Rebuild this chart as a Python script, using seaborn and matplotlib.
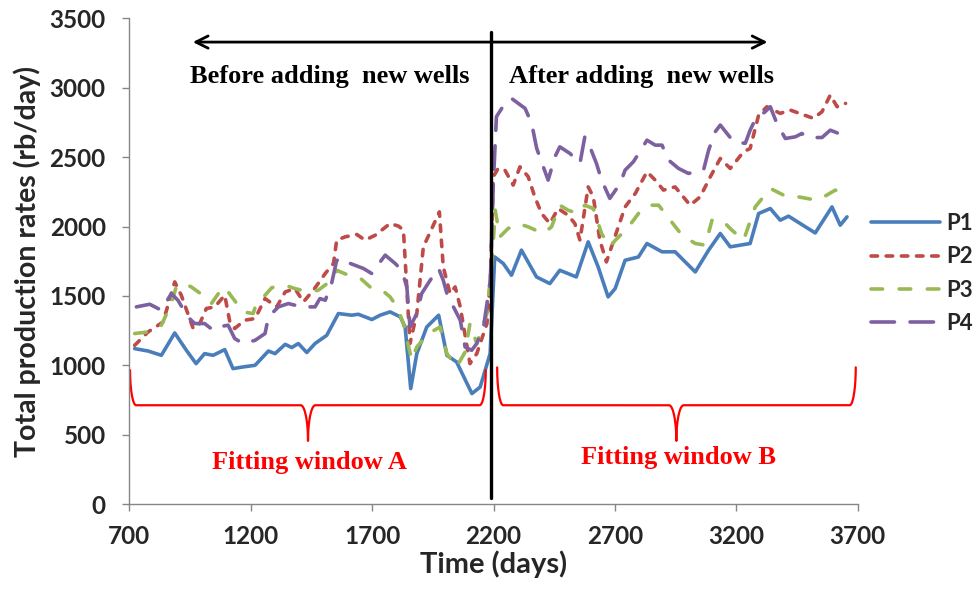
import numpy as np
import pandas as pd
import matplotlib
matplotlib.use("Agg")
import matplotlib.pyplot as plt
import seaborn as sns

# ---------------- data ----------------
p1_days = [722, 777, 832, 887, 935, 975, 1010, 1045, 1093, 1127, 1168, 1218, 1273, 1300, 1342,
           1369, 1396, 1431, 1465, 1513, 1561, 1616, 1643, 1699, 1733, 1774, 1816, 1836, 1859,
           1884, 1925, 1974, 2008, 2048, 2111, 2145, 2186, 2205, 2240, 2274, 2315, 2377, 2432,
           2473, 2541, 2590, 2631, 2672, 2701, 2742, 2797, 2832, 2894, 2948, 3031, 3086, 3134,
           3175, 3216, 3257, 3292, 3340, 3381, 3415, 3525, 3594, 3628, 3656]
p1_vals = [1120, 1103, 1072, 1233, 1108, 1012, 1084, 1072, 1113, 976, 988, 1000, 1103, 1084, 1151,
           1128, 1157, 1092, 1157, 1216, 1373, 1361, 1368, 1330, 1361, 1385, 1349, 1276, 832,
           1084, 1276, 1361, 1072, 1024, 796, 843, 1084, 1781, 1734, 1649, 1830, 1637, 1589,
           1685, 1637, 1890, 1709, 1493, 1553, 1757, 1781, 1878, 1818, 1818, 1673, 1830, 1950,
           1854, 1866, 1878, 2094, 2130, 2046, 2075, 1954, 2142, 2010, 2070]

p2_days = [722, 777, 839, 887, 914, 963, 990, 1017, 1052, 1093, 1114, 1134, 1175, 1218, 1259,
           1307, 1342, 1382, 1417, 1458, 1507, 1541, 1554, 1589, 1637, 1671, 1713, 1774, 1809,
           1829, 1856, 1884, 1911, 1946, 1977, 1993, 2021, 2042, 2063, 2103, 2131, 2173, 2187,
           2199, 2219, 2247, 2281, 2309, 2343, 2370, 2398, 2432, 2466, 2507, 2535, 2556, 2590,
           2611, 2638, 2665, 2700, 2742, 2784, 2832, 2866, 2900, 2948, 3010, 3051, 3093, 3134,
           3175, 3230, 3257, 3292, 3326, 3381, 3422, 3518, 3553, 3587, 3615, 3650]
p2_vals = [1144, 1240, 1312, 1601, 1505, 1265, 1301, 1409, 1421, 1505, 1312, 1265, 1325, 1337, 1481,
           1421, 1529, 1553, 1457, 1541, 1662, 1734, 1902, 1926, 1943, 1902, 1938, 2022, 2003,
           1974, 1157, 1373, 1854, 1986, 2106, 1709, 1517, 1565, 1421, 1012, 1084, 1301, 1613,
           2359, 2419, 2407, 2299, 2431, 2359, 2214, 2094, 2022, 2130, 2082, 2022, 1902, 2286,
           2214, 1902, 1745, 1926, 2142, 2239, 2395, 2335, 2263, 2286, 2154, 2214, 2359, 2491,
           2419, 2539, 2563, 2804, 2864, 2816, 2840, 2780, 2828, 2948, 2864, 2888]

p3_days = [722, 777, 832, 873, 893, 928, 955, 1003, 1038, 1086, 1107, 1148, 1168, 1210, 1223,
           1259, 1287, 1342, 1382, 1438, 1478, 1533, 1554, 1603, 1650, 1691, 1733, 1774, 1802,
           1829, 1863, 1884, 1932, 1980, 2008, 2048, 2083, 2103, 2131, 2173, 2194, 2207, 2226,
           2260, 2301, 2343, 2404, 2439, 2473, 2507, 2548, 2576, 2611, 2645, 2679, 2701, 2756,
           2797, 2838, 2880, 2928, 2976, 3031, 3072, 3100, 3141, 3182, 3230, 3278, 3340, 3409,
           3456, 3532, 3560, 3608, 3642]
p3_vals = [1229, 1240, 1289, 1445, 1565, 1589, 1565, 1505, 1445, 1565, 1529, 1433, 1385, 1373, 1445,
           1505, 1560, 1577, 1553, 1529, 1541, 1613, 1685, 1649, 1630, 1565, 1553, 1493, 1421,
           1301, 1036, 1132, 1229, 1276, 1084, 988, 1096, 1301, 1157, 1373, 1750, 2118, 1926,
           1986, 2022, 1998, 1950, 1998, 2154, 2118, 2094, 2154, 2130, 1950, 1854, 1900, 1998,
           2094, 2154, 2154, 2046, 1938, 1878, 1866, 2046, 2046, 1974, 1902, 2142, 2275, 2214,
           2214, 2190, 2214, 2263, 2219]

p4_days = [729, 784, 832, 873, 900, 941, 969, 1010, 1045, 1065, 1107, 1134, 1168, 1218, 1259,
           1273, 1314, 1355, 1410, 1465, 1485, 1507, 1533, 1554, 1589, 1610, 1664, 1699, 1733,
           1754, 1795, 1822, 1843, 1856, 1884, 1904, 1939, 1974, 1993, 2008, 2035, 2063, 2083,
           2110, 2131, 2159, 2187, 2199, 2212, 2247, 2274, 2330, 2357, 2378, 2405, 2425, 2453,
           2473, 2515, 2556, 2576, 2597, 2624, 2645, 2679, 2722, 2742, 2776, 2811, 2832, 2866,
           2894, 2921, 2962, 3003, 3065, 3086, 3113, 3134, 3189, 3237, 3257, 3278, 3319, 3340,
           3367, 3402, 3443, 3470, 3497, 3553, 3587, 3622, 3656]
p4_vals = [1421, 1440, 1397, 1517, 1469, 1349, 1301, 1301, 1253, 1276, 1289, 1193, 1157, 1180, 1229,
           1349, 1421, 1445, 1421, 1421, 1481, 1469, 1589, 1757, 1770, 1734, 1698, 1661, 1745,
           1794, 1734, 1685, 1565, 1276, 1373, 1517, 1613, 1698, 1613, 1517, 1421, 1325, 1132,
           1108, 1157, 1276, 1613, 2300, 2792, 2888, 2924, 2852, 2744, 2563, 2431, 2335, 2503,
           2575, 2527, 2455, 2647, 2575, 2455, 2335, 2203, 2311, 2407, 2467, 2563, 2623, 2587,
           2587, 2479, 2419, 2383, 2407, 2551, 2683, 2732, 2611, 2600, 2695, 2772, 2828, 2864,
           2744, 2635, 2647, 2671, 2642, 2642, 2695, 2671, 2647]

series_names = ["P1", "P2", "P3", "P4"]
x_ticks = [700, 1200, 1700, 2200, 2700, 3200, 3700]
y_ticks = [0, 500, 1000, 1500, 2000, 2500, 3000, 3500]
split_day = 2190

# ---------------- style ----------------
sns.set_theme(style="white")
plt.rcParams["font.family"] = ["Lato", "DejaVu Sans"]
plt.rcParams["font.weight"] = "bold"

colors = {"P1": "#4A7EBB", "P2": "#BE4B48", "P3": "#98B954", "P4": "#7D60A0"}
styles = {"P1": "-", "P2": (0, (1.8, 2.4)), "P3": (0, (3.2, 4.6)), "P4": (0, (6.5, 4.3))}

fig = plt.figure(figsize=(9.79, 5.89), dpi=100)
ax = fig.add_axes([0.1321, 0.1443, 0.8761 - 0.1321, 0.9686 - 0.1443])

data = {"P1": (p1_days, p1_vals), "P2": (p2_days, p2_vals),
        "P3": (p3_days, p3_vals), "P4": (p4_days, p4_vals)}

handles = []
for name in series_names:
    d, v = data[name]
    df = pd.DataFrame({"day": d, "rate": v})
    sns.lineplot(data=df, x="day", y="rate", ax=ax, color=colors[name], lw=2.6,
                 linestyle=styles[name], dash_capstyle="round", solid_capstyle="round",
                 solid_joinstyle="round", dash_joinstyle="round", legend=False)
    handles.append(ax.lines[-1])

ax.set_xlim(700, 3700)
ax.set_ylim(0, 3500)
ax.set_xticks(x_ticks)
ax.set_yticks(y_ticks)
ax.set_xticklabels([str(t) for t in x_ticks], fontsize=17.5, fontweight="bold")
ax.set_yticklabels([str(t) for t in y_ticks], fontsize=17.5, fontweight="bold")
ax.set_xlabel("Time (days)", fontsize=21, fontweight="bold", labelpad=2)
ax.set_ylabel("Total production rates (rb/day)", fontsize=20.5, fontweight="bold", labelpad=6)

for s in ["top", "right"]:
    ax.spines[s].set_visible(False)
for s in ["left", "bottom"]:
    ax.spines[s].set_color("#868686")
    ax.spines[s].set_linewidth(1.0)
ax.tick_params(axis="both", direction="out", length=5, width=1, color="#868686",
               bottom=True, left=True)
ax.tick_params(axis="x", pad=10)
ax.tick_params(axis="y", pad=12)

# ---------------- annotations ----------------
ax.plot([split_day, split_day], [45, 3400], color="black", lw=2.4, clip_on=False)
ax.annotate("", xy=(950, 3330), xytext=(3340, 3330),
            arrowprops=dict(arrowstyle="<->", color="black", lw=2.0,
                            mutation_scale=22), annotation_clip=False)
serif = ["Liberation Serif", "DejaVu Serif"]
ax.text(1527, 3085, "Before adding  new wells", ha="center", va="center",
        fontsize=19, fontweight="bold", family=serif, color="black")
ax.text(2809, 3085, "After adding  new wells", ha="center", va="center",
        fontsize=19, fontweight="bold", family=serif, color="black")


def brace(x0, x1, xt, y_top, y_h, y_tip, we=25, wt=30, n=40):
    th = np.linspace(0, np.pi / 2, n)
    lx = x0 + we - we * np.cos(th)
    ly = y_top - (y_top - y_h) * np.sin(th)
    tlx = xt - wt + wt * np.sin(th)
    tly = y_tip + (y_h - y_tip) * np.cos(th)
    trx = xt + wt - wt * np.sin(th[::-1])
    try_ = y_tip + (y_h - y_tip) * np.cos(th[::-1])
    rx = x1 - we + we * np.cos(th[::-1])
    ry = y_top - (y_top - y_h) * np.sin(th[::-1])
    xs = np.concatenate([lx, tlx, trx, rx])
    ys = np.concatenate([ly, tly, try_, ry])
    ax.plot(xs, ys, color="red", lw=1.6, clip_on=False)


brace(703, 2168, 1436, 965, 712, 455)
brace(2215, 3692, 2953, 985, 712, 455)
ax.text(1444, 300, "Fitting window A", ha="center", va="center",
        fontsize=19, fontweight="bold", family=serif, color="red")
ax.text(2962, 336, "Fitting window B", ha="center", va="center",
        fontsize=19, fontweight="bold", family=serif, color="red")

leg = fig.legend(handles, series_names, loc="center left",
                 bbox_to_anchor=(871 / 979, 1 - 273.5 / 589), frameon=False,
                 prop={"size": 16, "weight": "bold"}, handlelength=3.1,
                 handletextpad=0.3, labelspacing=0.55, borderpad=0,
                 borderaxespad=0)

fig.savefig("out.png", dpi=100)
